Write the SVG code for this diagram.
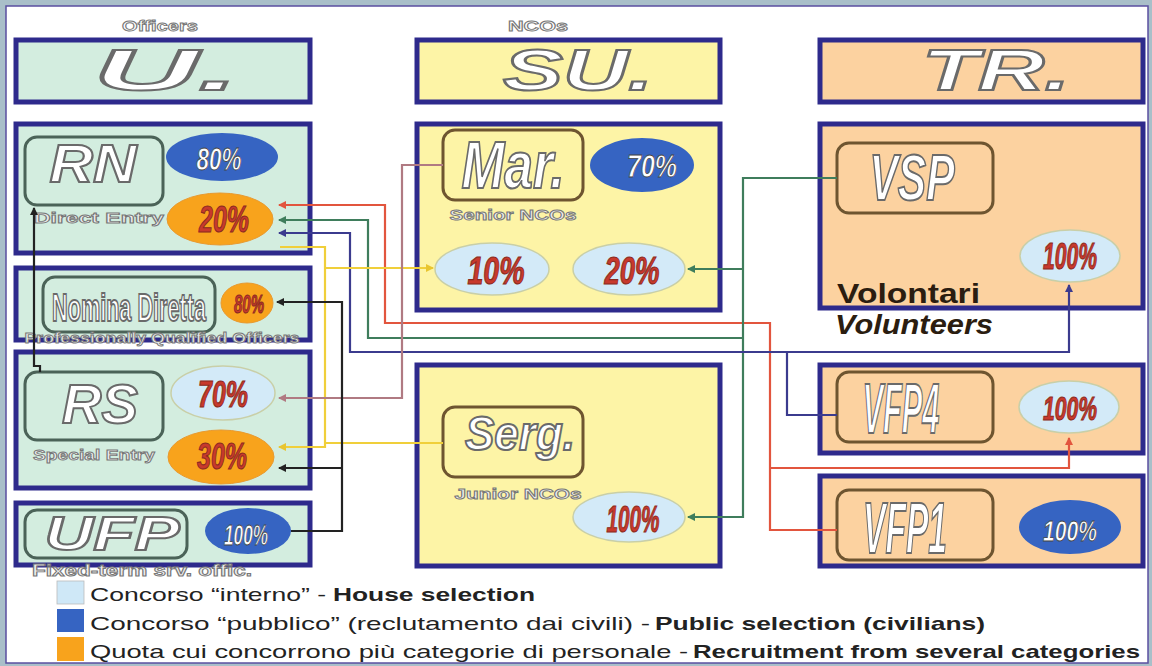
<svg xmlns="http://www.w3.org/2000/svg" width="1152" height="666" viewBox="0 0 1152 666">
<style>
text{font-family:"Liberation Sans",Arial,sans-serif}
.box{stroke:#2e2a8c;stroke-width:5}
.mint{fill:#d3eddf}
.yel{fill:#fdf4a6}
.pch{fill:#fcd2a0}
.rr{stroke-width:3;fill:none}
.rg{stroke:#4b6358}
.rb{stroke:#6e5530}
.eb{fill:#3664c2}
.el{fill:#d3eaf8;stroke:#c9cfa8;stroke-width:1.5}
.eo{fill:#f8a31c;stroke:#e89a30;stroke-width:1}
.ol{fill:#fff;stroke:#6a6a6a;stroke-width:2;font-weight:bold;font-style:italic;text-anchor:middle}
.sub{fill:#eeeeee;stroke:#777;stroke-width:0.9;font-weight:bold;font-size:15px;text-anchor:middle}
.pr{fill:#c8392c;stroke:#8a2a20;stroke-width:1.1;font-weight:bold;font-style:italic;text-anchor:middle}
.pw{fill:#fff;stroke:#444;stroke-width:0.8;font-weight:bold;font-style:italic;text-anchor:middle}
.ln{fill:none;stroke-width:2.2}
.lg{font-size:19px;fill:#222}
.lgb{font-size:19px;fill:#222;font-weight:bold}
</style>
<defs>
<marker id="aR" markerUnits="userSpaceOnUse" markerWidth="8" markerHeight="8" refX="7" refY="4" orient="auto"><path d="M0,0 L8,4 L0,8 z" fill="#e2553e"/></marker>
<marker id="aG" markerUnits="userSpaceOnUse" markerWidth="8" markerHeight="8" refX="7" refY="4" orient="auto"><path d="M0,0 L8,4 L0,8 z" fill="#3f7d5c"/></marker>
<marker id="aN" markerUnits="userSpaceOnUse" markerWidth="8" markerHeight="8" refX="7" refY="4" orient="auto"><path d="M0,0 L8,4 L0,8 z" fill="#3b3b8e"/></marker>
<marker id="aK" markerUnits="userSpaceOnUse" markerWidth="8" markerHeight="8" refX="7" refY="4" orient="auto"><path d="M0,0 L8,4 L0,8 z" fill="#222"/></marker>
<marker id="aY" markerUnits="userSpaceOnUse" markerWidth="8" markerHeight="8" refX="7" refY="4" orient="auto"><path d="M0,0 L8,4 L0,8 z" fill="#e8c530"/></marker>
<marker id="aM" markerUnits="userSpaceOnUse" markerWidth="8" markerHeight="8" refX="7" refY="4" orient="auto"><path d="M0,0 L8,4 L0,8 z" fill="#b07a82"/></marker>
</defs>
<rect x="0" y="0" width="1152" height="666" fill="#a9bfc9"/>
<rect x="6" y="6" width="1142" height="657" fill="#fff" stroke="#5a4fa0" stroke-width="1.5"/>

<text x="160" y="31" font-size="15" fill="#fff" stroke="#777" stroke-width="0.9" font-weight="bold" text-anchor="middle" textLength="76" lengthAdjust="spacingAndGlyphs">Officers</text>
<text x="538" y="31" font-size="15" fill="#fff" stroke="#777" stroke-width="0.9" font-weight="bold" text-anchor="middle" textLength="60" lengthAdjust="spacingAndGlyphs">NCOs</text>

<g id="hdr-u"><rect class="box mint" x="16" y="40" width="294" height="62"/><text class="ol" x="166" y="90" font-size="58" textLength="145" lengthAdjust="spacingAndGlyphs">U.</text></g>
<g id="hdr-su"><rect class="box yel" x="417" y="40" width="303" height="62"/><text class="ol" x="578" y="90" font-size="58" textLength="150" lengthAdjust="spacingAndGlyphs">SU.</text></g>
<g id="hdr-tr"><rect class="box pch" x="820" y="40" width="323" height="62"/><text class="ol" x="996" y="90" font-size="58" textLength="148" lengthAdjust="spacingAndGlyphs">TR.</text></g>

<g id="rn">
<rect class="box mint" x="16" y="124" width="294" height="129"/>
<rect class="rr rg" x="25" y="137" width="138" height="68" rx="12"/>
<text class="ol" x="93" y="182" font-size="54" textLength="87" lengthAdjust="spacingAndGlyphs">RN</text>
<text class="sub" x="99" y="223" textLength="130" lengthAdjust="spacingAndGlyphs">Direct Entry</text>
<ellipse class="eb" cx="222" cy="157" rx="56" ry="24"/>
<text class="pw" x="219" y="170" font-size="32" textLength="45" lengthAdjust="spacingAndGlyphs">80%</text>
<ellipse class="eo" cx="220" cy="219" rx="53" ry="26"/>
<text class="pr" x="224" y="232" font-size="36" textLength="50" lengthAdjust="spacingAndGlyphs">20%</text>
</g>

<g id="nomina">
<rect class="box mint" x="16" y="268" width="294" height="72"/>
<rect class="rr rg" x="43" y="277" width="172" height="55" rx="12"/>
<text class="ol" transform="translate(129,321) scale(0.57,1)" x="0" y="0" font-size="38" style="font-style:normal">Nomina Diretta</text>
<ellipse class="eo" cx="247" cy="303" rx="26" ry="20"/>
<text class="pr" x="249" y="313" font-size="26" textLength="30" lengthAdjust="spacingAndGlyphs">80%</text>
<text class="sub" x="162" y="343" textLength="275" lengthAdjust="spacingAndGlyphs">Professionally Qualified Officers</text>
</g>

<g id="rs">
<rect class="box mint" x="16" y="352" width="294" height="136"/>
<rect class="rr rg" x="25" y="372" width="138" height="68" rx="12"/>
<text class="ol" x="100" y="423" font-size="56" textLength="76" lengthAdjust="spacingAndGlyphs">RS</text>
<text class="sub" x="94" y="460" textLength="122" lengthAdjust="spacingAndGlyphs">Special Entry</text>
<ellipse class="el" cx="223" cy="393" rx="52" ry="27"/>
<text class="pr" x="223" y="407" font-size="36" textLength="50" lengthAdjust="spacingAndGlyphs">70%</text>
<ellipse class="eo" cx="221" cy="457" rx="53" ry="27"/>
<text class="pr" x="222" y="469" font-size="36" textLength="50" lengthAdjust="spacingAndGlyphs">30%</text>
</g>

<g id="ufp">
<rect class="box mint" x="16" y="503" width="294" height="62"/>
<rect class="rr rg" x="25" y="510" width="162" height="48" rx="12"/>
<text class="ol" x="112" y="550" font-size="48" textLength="135" lengthAdjust="spacingAndGlyphs">UFP</text>
<ellipse class="eb" cx="248" cy="531" rx="43" ry="23"/>
<text class="pw" x="246" y="545" font-size="30" textLength="44" lengthAdjust="spacingAndGlyphs">100%</text>
<text class="sub" x="142" y="576" style="font-size:16px" textLength="220" lengthAdjust="spacingAndGlyphs">Fixed-term srv. offic.</text>
</g>

<g id="mar">
<rect class="box yel" x="417" y="124" width="303" height="186"/>
<rect class="rr rb" x="443" y="130" width="140" height="70" rx="12"/>
<text class="ol" x="513" y="188" font-size="66" textLength="103" lengthAdjust="spacingAndGlyphs">Mar.</text>
<text class="sub" x="513" y="220" textLength="127" lengthAdjust="spacingAndGlyphs">Senior NCOs</text>
<ellipse class="eb" cx="642" cy="165" rx="52" ry="27"/>
<text class="pw" x="652" y="177" font-size="32" textLength="50" lengthAdjust="spacingAndGlyphs">70%</text>
<ellipse class="el" cx="492" cy="269" rx="57" ry="26"/>
<text class="pr" x="496" y="284" font-size="38" textLength="57" lengthAdjust="spacingAndGlyphs">10%</text>
<ellipse class="el" cx="629" cy="269" rx="56" ry="26"/>
<text class="pr" x="632" y="284" font-size="38" textLength="55" lengthAdjust="spacingAndGlyphs">20%</text>
</g>

<g id="serg">
<rect class="box yel" x="417" y="365" width="303" height="201"/>
<rect class="rr rb" x="443" y="407" width="140" height="70" rx="12"/>
<text class="ol" x="520" y="450" font-size="48" textLength="110" lengthAdjust="spacingAndGlyphs">Serg.</text>
<text class="sub" x="518" y="499" textLength="127" lengthAdjust="spacingAndGlyphs">Junior NCOs</text>
<ellipse class="el" cx="629" cy="517" rx="56" ry="25"/>
<text class="pr" x="633" y="532" font-size="36" textLength="53" lengthAdjust="spacingAndGlyphs">100%</text>
</g>

<g id="vsp">
<rect class="box pch" x="820" y="124" width="323" height="184"/>
<rect class="rr rb" x="837" y="143" width="156" height="70" rx="12"/>
<text class="ol" x="912" y="200" font-size="64" textLength="85" lengthAdjust="spacingAndGlyphs">VSP</text>
<ellipse class="el" cx="1070" cy="256" rx="50" ry="26"/>
<text class="pr" x="1070" y="269" font-size="36" textLength="54" lengthAdjust="spacingAndGlyphs">100%</text>
<text x="837" y="303" font-size="27" font-weight="bold" fill="#2b1d10" textLength="143" lengthAdjust="spacingAndGlyphs">Volontari</text>
<text x="835" y="334" font-size="27" font-weight="bold" font-style="italic" fill="#2b1d10" textLength="158" lengthAdjust="spacingAndGlyphs">Volunteers</text>
</g>

<g id="vfp4">
<rect class="box pch" x="820" y="365" width="323" height="88"/>
<rect class="rr rb" x="837" y="372" width="156" height="70" rx="12"/>
<text class="ol" x="901" y="433" font-size="70" textLength="77" lengthAdjust="spacingAndGlyphs">VFP4</text>
<ellipse class="el" cx="1069" cy="407" rx="50" ry="26"/>
<text class="pr" x="1070" y="420" font-size="34" textLength="54" lengthAdjust="spacingAndGlyphs">100%</text>
</g>

<g id="vfp1">
<rect class="box pch" x="820" y="476" width="323" height="90"/>
<rect class="rr rb" x="837" y="490" width="156" height="70" rx="12"/>
<text class="ol" x="905" y="553" font-size="72" textLength="84" lengthAdjust="spacingAndGlyphs">VFP1</text>
<ellipse class="eb" cx="1070" cy="527" rx="51" ry="27"/>
<text class="pw" x="1070" y="541" font-size="30" textLength="54" lengthAdjust="spacingAndGlyphs">100%</text>
</g>

<g id="connectors">
<path class="ln" stroke="#e2553e" d="M837,530 H770 V323 H385 V205 H279" marker-end="url(#aR)"/>
<path class="ln" stroke="#e2553e" d="M770,468 H1069 V438" marker-end="url(#aR)"/>
<path class="ln" stroke="#3f7d5c" d="M837,178 H743 V517 H688" marker-end="url(#aG)"/>
<path class="ln" stroke="#3f7d5c" d="M743,269 H688" marker-end="url(#aG)"/>
<path class="ln" stroke="#3f7d5c" d="M743,338 H368 V220 H279" marker-end="url(#aG)"/>
<path class="ln" stroke="#3b3b8e" d="M837,415 H787 V352 H350 V233 H279" marker-end="url(#aN)"/>
<path class="ln" stroke="#3b3b8e" d="M787,352 H1069 V285" marker-end="url(#aN)"/>
<path class="ln" stroke="#f0cf3a" d="M443,443 H325"/>
<path class="ln" stroke="#f0cf3a" d="M280,247 H325 V447 H279" marker-end="url(#aY)"/>
<path class="ln" stroke="#f0cf3a" d="M325,268 H433" marker-end="url(#aY)"/>
<path class="ln" stroke="#b07a82" d="M443,165 H402 V398 H279" marker-end="url(#aM)"/>
<path class="ln" stroke="#222" d="M291,531 H342 V302 H277" marker-end="url(#aK)"/>
<path class="ln" stroke="#222" d="M342,468 H279" marker-end="url(#aK)"/>
<path class="ln" stroke="#222" d="M40,372 V366 H34 V208" marker-end="url(#aK)"/>
</g>

<g id="legend">
<rect x="57" y="581" width="27" height="23" fill="#cfe8f7" stroke="#bbb" stroke-width="0.8"/>
<rect x="57" y="609" width="27" height="23" fill="#3664c2"/>
<rect x="57" y="637" width="27" height="24" fill="#f8a31c"/>
<text class="lg" x="90" y="601" textLength="236" lengthAdjust="spacingAndGlyphs">Concorso “interno” - </text>
<text class="lgb" x="333" y="601" textLength="202" lengthAdjust="spacingAndGlyphs">House selection</text>
<text class="lg" x="90" y="630" textLength="560" lengthAdjust="spacingAndGlyphs">Concorso “pubblico” (reclutamento dai civili) - </text>
<text class="lgb" x="655" y="630" textLength="330" lengthAdjust="spacingAndGlyphs">Public selection (civilians)</text>
<text class="lg" x="90" y="658" textLength="598" lengthAdjust="spacingAndGlyphs">Quota cui concorrono più categorie di personale - </text>
<text class="lgb" x="693" y="658" textLength="447" lengthAdjust="spacingAndGlyphs">Recruitment from several categories</text>
</g>
</svg>
